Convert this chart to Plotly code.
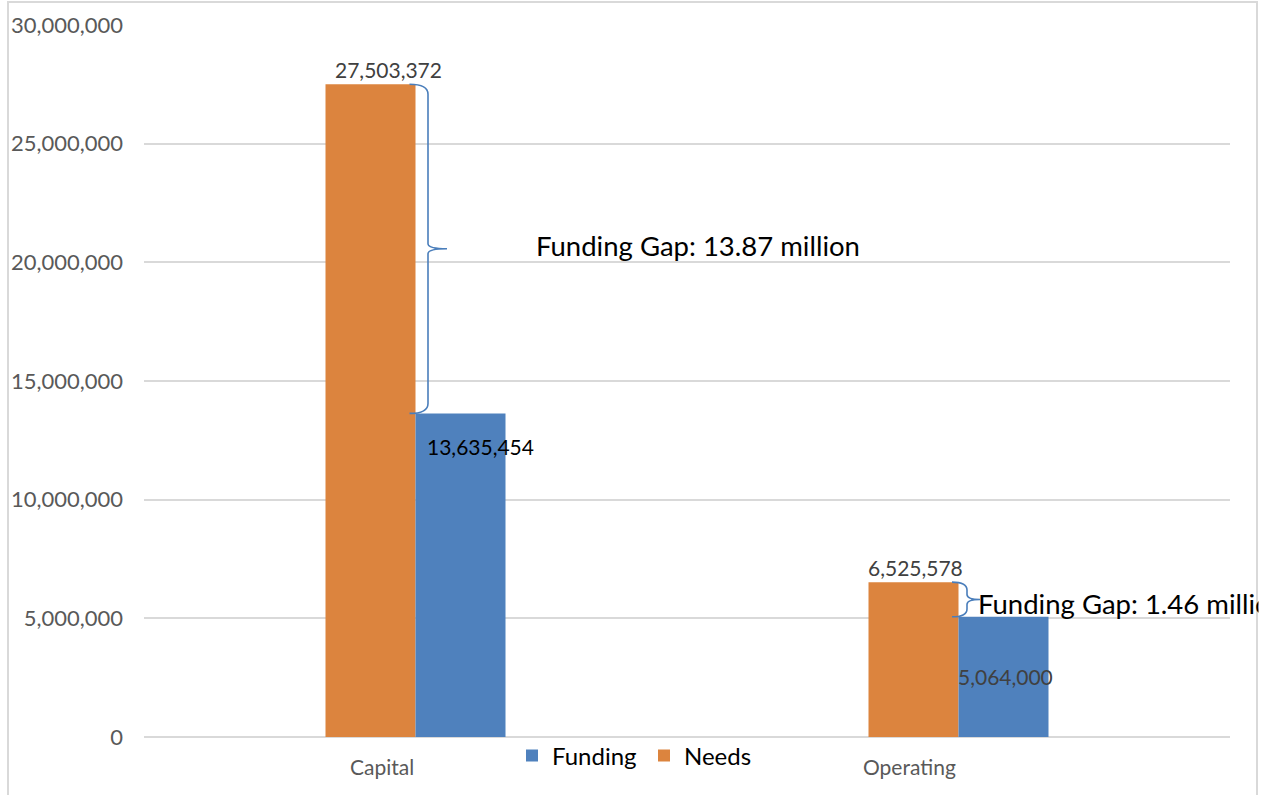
import plotly.graph_objects as go

categories = ["Capital", "Operating"]
needs = [27503372, 6525578]
funding = [13635454, 5064000]
gap_labels = ["Funding Gap: 13.87 million", "Funding Gap: 1.46 million"]
y_ticks = [0, 5000000, 10000000, 15000000, 20000000, 25000000, 30000000]

ORANGE = "#DC843E"
BLUE = "#4F81BD"
BRACE = "#4A7EBB"
GRID = "#D9D9D9"
FONT = "Lato"

W_FIG, H_FIG = 1268, 795
ML, MR, MT, MB = 144, 38, 25, 58
plot_w = W_FIG - ML - MR
plot_h = H_FIG - MT - MB
x_range = [-0.5, len(categories) - 0.5]
y_range = [0, 30000000]
PX = (x_range[1] - x_range[0]) / plot_w      # data units per pixel (x)
PY = (y_range[1] - y_range[0]) / plot_h      # data units per pixel (y)

pos = list(range(len(categories)))
BW = 90 * PX

fig = go.Figure()
fig.add_trace(go.Bar(name="Needs", x=pos, y=needs, width=BW, offset=-BW,
                     marker=dict(color=ORANGE, line=dict(width=0)), hoverinfo="y"))
fig.add_trace(go.Bar(name="Funding", x=pos, y=funding, width=BW, offset=0,
                     marker=dict(color=BLUE, line=dict(width=0)), hoverinfo="y"))

annotations = []
# value labels
need_xshift = [18, 2]
for p, v, xs in zip(pos, needs, need_xshift):
    annotations.append(dict(x=p - BW / 2, y=v, xref="x", yref="y", text=f"{v:,}",
                            showarrow=False, xanchor="center", yanchor="bottom",
                            xshift=xs, yshift=0, font=dict(family=FONT, size=21, color="#404040")))
fund_xshift = [20, 2]
fund_yshift = [-33, -60]
fund_color = ["#000000", "#404040"]
for p, v, xs, ys, c in zip(pos, funding, fund_xshift, fund_yshift, fund_color):
    annotations.append(dict(x=p + BW / 2, y=v, xref="x", yref="y", text=f"{v:,}",
                            showarrow=False, xanchor="center", yanchor="middle",
                            xshift=xs, yshift=ys, font=dict(family=FONT, size=21, color=c)))

# category labels
cat_xshift = [-33.5, -49.5]
for p, c, xs in zip(pos, categories, cat_xshift):
    annotations.append(dict(x=p, y=0, xref="x", yref="paper", text=c, showarrow=False,
                            xanchor="center", yanchor="middle", xshift=xs, yshift=-29,
                            font=dict(family=FONT, size=21, color="#595959")))

# braces
shapes = []
brace_end_px = [-6, -6.5]
brace_v_px = [12.5, 8.5]
brace_tip_px = [31.5, 21.5]
text_gap_px = [87, -4]
text_yshift = [3, -4]
for i, p in enumerate(pos):
    yt, yb = needs[i], funding[i]
    ym = (yt + yb) / 2
    xe = p + brace_end_px[i] * PX
    xv = p + brace_v_px[i] * PX
    xt = p + brace_tip_px[i] * PX
    half_px = (yt - yb) / PY / 2
    r = min(10, half_px / 2.2) * PY
    rm = min(5, half_px / 3) * PY
    path = (f"M {xe},{yt} Q {xv},{yt} {xv},{yt - r} "
            f"L {xv},{ym + rm} Q {xv},{ym} {xt},{ym} "
            f"Q {xv},{ym} {xv},{ym - rm} "
            f"L {xv},{yb + r} Q {xv},{yb} {xe},{yb}")
    shapes.append(dict(type="path", path=path, xref="x", yref="y",
                       line=dict(color=BRACE, width=1.6)))
    annotations.append(dict(x=xt, y=ym, xref="x", yref="y", text=gap_labels[i],
                            showarrow=False, xanchor="left", yanchor="middle",
                            xshift=text_gap_px[i], yshift=text_yshift[i],
                            font=dict(family=FONT, size=27.5, color="#000000")))

# chart border
bx0 = (8 - ML) / plot_w
bx1 = (1257 - ML) / plot_w
by1 = 1 + (MT - 2) / plot_h
shapes.append(dict(type="rect", xref="paper", yref="paper", x0=bx0, x1=bx1, y0=-0.3, y1=by1,
                   line=dict(color=GRID, width=2), fillcolor="rgba(0,0,0,0)", layer="below"))

# cover to clip overflowing text at the chart border
annotations.append(dict(x=(1258 - ML) / plot_w, y=funding[1] + (needs[1] - funding[1]) / 2,
                        xref="paper", yref="y", text=" ", showarrow=False, xanchor="left",
                        yanchor="middle", width=40, height=50, bgcolor="#FFFFFF",
                        font=dict(family=FONT, size=20)))

fig.update_layout(
    width=W_FIG, height=H_FIG,
    margin=dict(l=ML, r=MR, t=MT, b=MB, pad=0),
    paper_bgcolor="#FFFFFF", plot_bgcolor="#FFFFFF",
    barmode="overlay",
    font=dict(family=FONT, color="#000000"),
    showlegend=True,
    legend=dict(orientation="h", traceorder="reversed", x=(512 - ML) / plot_w, xanchor="left",
                y=-(756 - (H_FIG - MB)) / plot_h, yanchor="middle",
                entrywidth=87, entrywidthmode="pixels",
                font=dict(family=FONT, size=24, color="#000000"),
                bgcolor="rgba(0,0,0,0)", itemclick=False),
    xaxis=dict(range=x_range, showgrid=False, zeroline=False, showticklabels=False,
               showline=False, ticks=""),
    yaxis=dict(range=y_range, tickvals=y_ticks, tickformat=",d", showgrid=True,
               gridcolor=GRID, gridwidth=2, zeroline=True, zerolinecolor=GRID, zerolinewidth=2,
               showline=False, ticks="", ticklabelstandoff=20,
               tickfont=dict(family=FONT, size=22, color="#595959")),
    shapes=shapes,
    annotations=annotations,
)

fig.write_html("out.html", config={"displayModeBar": False},
               post_script="document.body.style.margin='0';document.body.style.overflow='hidden';")
